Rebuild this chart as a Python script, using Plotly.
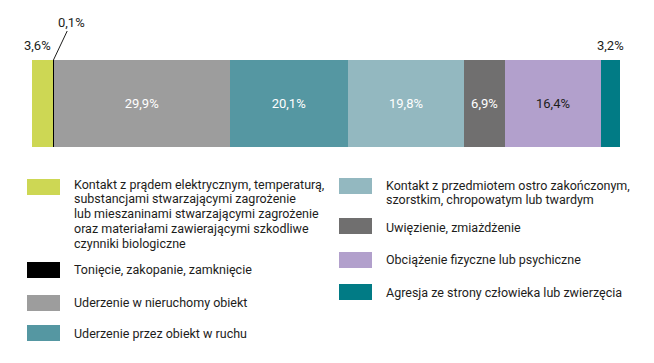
import plotly.graph_objects as go

categories = [
    "Kontakt z prądem elektrycznym, temperaturą, substancjami stwarzającymi zagrożenie lub mieszaninami stwarzającymi zagrożenie oraz materiałami zawierającymi szkodliwe czynniki biologiczne",
    "Tonięcie, zakopanie, zamknięcie",
    "Uderzenie w nieruchomy obiekt",
    "Uderzenie przez obiekt w ruchu",
    "Kontakt z przedmiotem ostro zakończonym, szorstkim, chropowatym lub twardym",
    "Uwięzienie, zmiażdżenie",
    "Obciążenie fizyczne lub psychiczne",
    "Agresja ze strony człowieka lub zwierzęcia",
]
values = [3.6, 0.1, 29.9, 20.1, 19.8, 6.9, 16.4, 3.2]
colors = ["#cdd754", "#000000", "#9d9d9d", "#5597a2", "#93b8c0", "#706f6f", "#b2a0cc", "#017b85"]
label_colors = ["#1d1d1b", "#1d1d1b", "#ffffff", "#ffffff", "#ffffff", "#ffffff", "#1d1d1b", "#1d1d1b"]
inside = [False, False, True, True, True, True, True, False]

legend_lines = [
    ["Kontakt z prądem elektrycznym, temperaturą,", "substancjami stwarzającymi zagrożenie",
     "lub mieszaninami stwarzającymi zagrożenie", "oraz materiałami zawierającymi szkodliwe",
     "czynniki biologiczne"],
    ["Tonięcie, zakopanie, zamknięcie"],
    ["Uderzenie w nieruchomy obiekt"],
    ["Uderzenie przez obiekt w ruchu"],
    ["Kontakt z przedmiotem ostro zakończonym,", "szorstkim, chropowatym lub twardym"],
    ["Uwięzienie, zmiażdżenie"],
    ["Obciążenie fizyczne lub psychiczne"],
    ["Agresja ze strony człowieka lub zwierzęcia"],
]

W, H = 654, 363
FONT = "Roboto"
TXT = "#1d1d1b"

def fmt(v):
    return f"{v:.1f}".replace(".", ",") + "%"

fig = go.Figure()
for i, (c, v) in enumerate(zip(categories, values)):
    fig.add_trace(go.Bar(
        x=[v], y=[0], orientation="h", name=c, width=1,
        marker=dict(color=colors[i], line=dict(width=0)),
        text=[fmt(v)] if inside[i] else [""],
        textposition="inside", insidetextanchor="middle",
        textfont=dict(color=label_colors[i], size=13, family=FONT),
        hoverinfo="skip", showlegend=False,
    ))

cum = []
s = 0
for v in values:
    cum.append(s)
    s += v

annotations = []
annotations.append(dict(x=cum[0] + values[0], y=0.5, xref="x", yref="y", text=fmt(values[0]),
                        showarrow=False, xanchor="right", yanchor="bottom", yshift=5, xshift=0,
                        font=dict(size=13, color=TXT, family=FONT)))
annotations.append(dict(x=cum[1] + values[1] / 2, y=0.5, xref="x", yref="y", text=fmt(values[1]),
                        showarrow=True, arrowhead=0, arrowwidth=1, arrowcolor=TXT,
                        ax=18, ay=-38, standoff=0,
                        font=dict(size=13, color=TXT, family=FONT)))
annotations.append(dict(x=cum[7] + values[7] / 2, y=0.5, xref="x", yref="y", text=fmt(values[7]),
                        showarrow=False, xanchor="center", yanchor="bottom", yshift=5,
                        font=dict(size=13, color=TXT, family=FONT)))

sq_left = [(27, 179), (27, 262), (27, 295), (27, 325), (339, 178), (339, 218), (339, 252), (339, 284)]
text_pos = [(72, 184), (72, 269), (72, 302), (72, 333), (384, 185), (384, 227), (384, 259), (384, 292)]
shapes = []
for i in range(len(categories)):
    x0, y0 = sq_left[i]
    shapes.append(dict(type="rect", xref="paper", yref="paper",
                       x0=x0 / W, x1=(x0 + 33) / W, y0=1 - y0 / H, y1=1 - (y0 + 16) / H,
                       fillcolor=colors[i], line=dict(width=0)))
    tx, ty = text_pos[i]
    for j, line in enumerate(legend_lines[i]):
        annotations.append(dict(x=tx / W, y=1 - (ty + j * 14.8) / H, xref="paper", yref="paper",
                                text=line, showarrow=False, xanchor="left", yanchor="middle",
                                font=dict(size=12.5, color=TXT, family=FONT)))

fig.update_layout(
    barmode="stack", width=W, height=H,
    margin=dict(l=0, r=0, t=0, b=0),
    paper_bgcolor="white", plot_bgcolor="white",
    xaxis=dict(domain=[32 / W, 620 / W], range=[0, 100], visible=False, fixedrange=True),
    yaxis=dict(domain=[1 - 147 / H, 1 - 60 / H], range=[-0.5, 0.5], visible=False, fixedrange=True),
    uniformtext=dict(mode=False),
    annotations=annotations, shapes=shapes, showlegend=False,
    font=dict(family=FONT, color=TXT),
)
fig.write_html("out.html", config={"displayModeBar": False},
               post_script="document.body.style.margin='0px';document.body.style.overflow='hidden';")
